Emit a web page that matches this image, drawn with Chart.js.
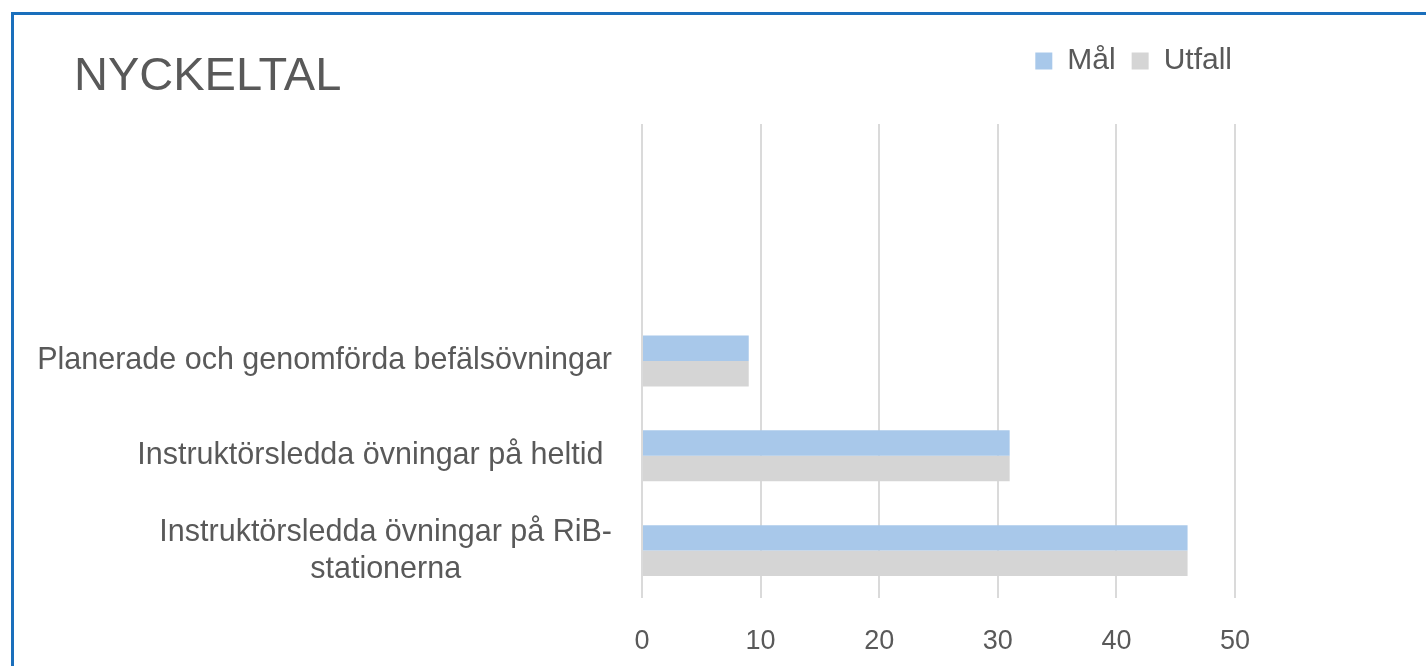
<!DOCTYPE html>
<html>
<head>
<meta charset="utf-8">
<script src="https://cdn.jsdelivr.net/npm/chart.js@4"></script>
<style>
  html, body { margin: 0; padding: 0; background: #fff; overflow: hidden; }
  #wrap { position: absolute; left: 0; top: 0; width: 1426px; height: 666px; }
  #frame { position: absolute; left: 11px; top: 12px; width: 1415px; height: 654px;
           border-left: 3px solid #1a6fbc; border-top: 3px solid #1a6fbc; box-sizing: border-box; pointer-events: none; }
</style>
</head>
<body>
<div id="wrap"><canvas id="c" width="1426" height="666"></canvas></div>
<div id="frame"></div>
<script>
const chartTitle = 'NYCKELTAL';
const categories = [
  '',
  '',
  'Planerade och genomförda befälsövningar',
  'Instruktörsledda övningar på heltid ',
  ['Instruktörsledda övningar på RiB-', 'stationerna']
];
const seriesNames = ['Mål', 'Utfall'];
const malValues = [null, null, 9, 31, 46];
const utfallValues = [null, null, 9, 31, 46];
const xTicks = [0, 10, 20, 30, 40, 50];

const FONT = "'Liberation Sans', Arial, sans-serif";
const TEXT = '#595959';

const titleAndLabels = {
  id: 'titleAndLabels',
  afterDraw(chart) {
    const ctx = chart.ctx;
    ctx.save();
    ctx.fillStyle = TEXT;
    ctx.font = '47px ' + FONT;
    ctx.textAlign = 'left';
    ctx.textBaseline = 'alphabetic';
    ctx.fillText(chartTitle, 74, 90);

    const ys = chart.scales.y;
    ctx.font = '30.5px ' + FONT;
    ctx.textBaseline = 'middle';
    const rightX = 612;
    const lh = 37;
    categories.forEach((lab, i) => {
      const cy = ys.getPixelForValue(i);
      const lines = Array.isArray(lab) ? lab : [lab];
      const widths = lines.map(l => ctx.measureText(l).width);
      const maxW = Math.max(...widths);
      const centerX = rightX - maxW / 2;
      lines.forEach((l, k) => {
        const y = cy + (k - (lines.length - 1) / 2) * lh;
        if (lines.length > 1) {
          ctx.textAlign = 'center';
          ctx.fillText(l, centerX, y);
        } else {
          ctx.textAlign = 'right';
          ctx.fillText(l, rightX, y);
        }
      });
    });
    ctx.restore();
  }
};

new Chart(document.getElementById('c'), {
  type: 'bar',
  data: {
    labels: categories,
    datasets: [
      { label: seriesNames[0], data: malValues, backgroundColor: '#a8c8ea', borderWidth: 0 },
      { label: seriesNames[1], data: utfallValues, backgroundColor: '#d5d5d5', borderWidth: 0 }
    ]
  },
  options: {
    indexAxis: 'y',
    responsive: false,
    animation: false,
    events: [],
    categoryPercentage: 0.537,
    barPercentage: 1.0,
    layout: { padding: { top: 30, right: 178, bottom: 0, left: 0 } },
    plugins: {
      title: { display: false },
      tooltip: { enabled: false },
      legend: {
        position: 'top',
        align: 'end',
        labels: {
          boxWidth: 17, boxHeight: 17, padding: 16,
          color: TEXT,
          font: { family: FONT, size: 30 }
        }
      }
    },
    scales: {
      x: {
        type: 'linear',
        position: 'bottom',
        min: 0, max: 50,
        afterBuildTicks(s) { s.ticks = xTicks.map(v => ({ value: v })); },
        grid: { color: '#dadada', lineWidth: 2, drawTicks: false },
        border: { display: false },
        ticks: { color: TEXT, font: { family: FONT, size: 27 }, padding: 27 },
        afterFit(s) { s.height = 68; }
      },
      xTop: {
        type: 'linear',
        position: 'top',
        display: true,
        grid: { display: false, drawTicks: false },
        border: { display: false },
        ticks: { display: false },
        afterFit(s) { s.height = 38; }
      },
      y: {
        type: 'category',
        position: 'left',
        grid: { display: false, drawTicks: false },
        border: { display: false },
        ticks: { display: false },
        afterFit(s) { s.width = 642; }
      },
      yRight: {
        type: 'linear',
        position: 'right',
        display: true,
        grid: { display: false, drawTicks: false },
        border: { display: false },
        ticks: { display: false },
        afterFit(s) { s.width = 13; }
      }
    }
  },
  plugins: [titleAndLabels]
});
</script>
</body>
</html>
